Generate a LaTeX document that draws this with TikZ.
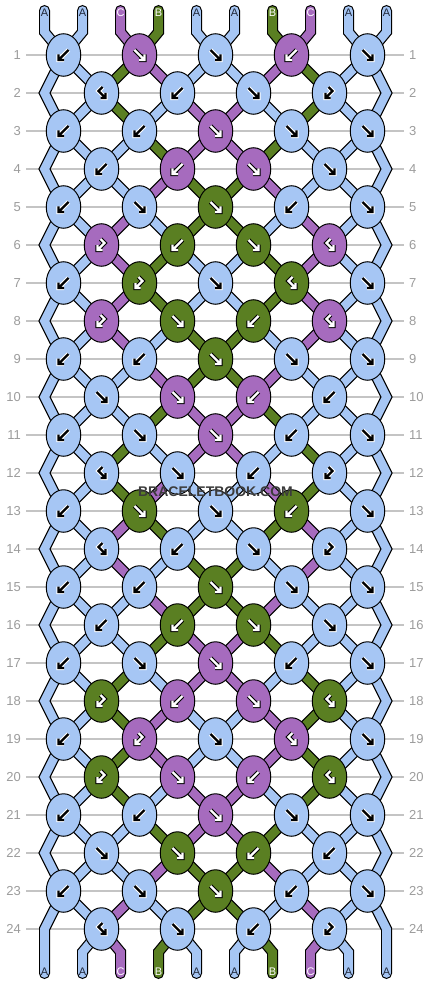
\documentclass[tikz,border=0pt]{standalone}
\usepackage{fontspec}
\setmainfont{Liberation Sans}
\usetikzlibrary{shapes.geometric}

\definecolor{strA}{HTML}{A6C6F4}
\definecolor{strB}{HTML}{5A7F22}
\definecolor{strC}{HTML}{A66BBE}
\colorlet{inkA}{black}\colorlet{rimA}{white}
\colorlet{inkB}{white}\colorlet{rimB}{black}
\colorlet{inkC}{white}\colorlet{rimC}{black}
\definecolor{tagA}{HTML}{1E2638}
\colorlet{tagB}{white}\colorlet{tagC}{white}
\definecolor{gridgray}{HTML}{C4C4C4}
\definecolor{numgray}{HTML}{9C9C9C}
\definecolor{wmgray}{HTML}{3C3C3C}
\colorlet{inkcol}{black}\colorlet{rimcol}{white}

\pgfdeclarelayer{grid}
\pgfdeclarelayer{strands}
\pgfsetlayers{grid,strands,main}

\tikzset{
  knot/.style={ellipse, draw=black, line width=1pt, minimum width=34.5pt,
    minimum height=42.5pt, inner sep=0pt},
  thread/.style={draw=#1, line width=8.6pt, line join=miter, line cap=round,
    preaction={draw=black, line width=11pt, line join=miter, line cap=round}},
  glyph/.style={draw=inkcol, line width=2.4pt, line join=miter, line cap=butt,
    preaction={draw=rimcol, line width=4.4pt, line join=miter, line cap=square}},
  gridline/.style={draw=gridgray, line width=1.2pt},
  rownum/.style={text=numgray, inner sep=0pt, font=\fontsize{13}{13}\selectfont},
  tag/.style={inner sep=0pt, font=\fontsize{11}{11}\selectfont},
  wmtext/.style={inner sep=0pt, font=\bfseries\fontsize{14}{14}\selectfont},
  gF/.pic={\draw[glyph] (-5,-5) -- (5,5) (5,-0.5) -- (5,5) -- (-0.5,5);},
  gB/.pic={\draw[glyph] (5,-5) -- (-5,5) (-5,-0.5) -- (-5,5) -- (0.5,5);},
  gFB/.pic={\draw[glyph] (1,-6) -- (-3,-2) -- (4,5) (4,0) -- (4,5) -- (-1,5);},
  gBF/.pic={\draw[glyph] (-1,-6) -- (3,-2) -- (-4,5) (-4,0) -- (-4,5) -- (1,5);},
}

\begin{document}
\begin{tikzpicture}[x=1pt,y=-1pt]
    \useasboundingbox (0,0) rectangle (430,984);
    \begin{pgfonlayer}{grid}
      \fill[white] (0,0) rectangle (430,984);
    \end{pgfonlayer}

    % row numbers and guide lines
    \foreach \rw in {1,...,24}{
      \node[rownum, anchor=east] (nl\rw) at (21,{17+38*\rw}) {\rw};
      \node[rownum, anchor=west] (nr\rw) at (409,{17+38*\rw}) {\rw};
      \begin{pgfonlayer}{grid}
        \draw[gridline, shorten <=5pt, shorten >=5pt] (nl\rw.east) -- (nr\rw.west);
      \end{pgfonlayer}
    }

    % knots: colour/kind, left to right
    \foreach \rw/\row in {
      1/{A/B,C/F,A/F,C/B,A/F}, 2/{A/FB,A/B,A/F,A/BF},
      3/{A/B,A/B,C/F,A/F,A/F}, 4/{A/B,C/B,C/F,A/F},
      5/{A/B,A/F,B/F,A/B,A/F}, 6/{C/BF,B/B,B/F,C/FB},
      7/{A/B,B/BF,A/F,B/FB,A/F}, 8/{C/BF,B/F,B/B,C/FB},
      9/{A/B,A/B,B/F,A/F,A/F}, 10/{A/F,C/F,C/B,A/B},
      11/{A/B,A/F,C/F,A/B,A/F}, 12/{A/FB,A/F,A/B,A/BF},
      13/{A/B,B/F,A/F,B/B,A/F}, 14/{A/FB,A/B,A/F,A/BF},
      15/{A/B,A/B,B/F,A/F,A/F}, 16/{A/B,B/B,B/F,A/F},
      17/{A/B,A/F,C/F,A/B,A/F}, 18/{B/BF,C/B,C/F,B/FB},
      19/{A/B,C/BF,A/F,C/FB,A/F}, 20/{B/BF,C/F,C/B,B/FB},
      21/{A/B,A/B,C/F,A/F,A/F}, 22/{A/F,B/F,B/B,A/B},
      23/{A/B,A/F,B/F,A/B,A/F}, 24/{A/FB,A/F,A/B,A/BF}}{
      \foreach \col/\kt [count=\n] in \row {
        \pgfmathtruncatemacro\p{2*\n-mod(\rw,2)}
        \pgfmathtruncatemacro\q{\p+1}
        \node[knot, fill=str\col] (k\rw-\p) at ({25.5+38*\p},{17+38*\rw}) {};
        \coordinate (a\rw-\p) at (k\rw-\p.center);
        \coordinate (a\rw-\q) at (k\rw-\p.center);
        \colorlet{inkcol}{ink\col}\colorlet{rimcol}{rim\col}
        \pic at (k\rw-\p) {g\kt};
      }
    }

    % outer threads turn at the edge on even rows
    \foreach \rw in {2,4,...,24}{
      \coordinate (a\rw-1) at (44.5,{17+38*\rw});
      \coordinate (a\rw-10) at (386.5,{17+38*\rw});
    }

    % thread ends and letters
    \foreach \col [count=\n] in {A,A,C,B,A,A,B,C,A,A}{
      \coordinate (t\n) at ({6.5+38*\n},10.5);
      \coordinate (a0-\n) at ({6.5+38*\n},32);
      \coordinate (a25-\n) at ({6.5+38*\n},952);
      \coordinate (z\n) at ({6.5+38*\n},973.5);
      \node[tag, text=tag\col] (lt\n) at ({6.5+38*\n},12.5) {\col};
      \node[tag, text=tag\col] (lb\n) at ({6.5+38*\n},972) {\col};
    }

    \begin{pgfonlayer}{strands}
      \draw[thread=strA] (t1) foreach \rw in {0,...,25}{ -- (a\rw-1)} -- (z1);
      \draw[thread=strA] (t10) foreach \rw in {0,...,25}{ -- (a\rw-10)} -- (z10);
      % threads 2..9 below each row
      \foreach \rw/\st in {
        0/{A,C,B,A,A,B,C,A}, 1/{A,B,C,A,A,C,B,A}, 2/{A,B,A,C,C,A,B,A},
        3/{A,A,B,C,C,B,A,A}, 4/{A,A,C,B,B,C,A,A}, 5/{A,C,A,B,B,A,C,A},
        6/{A,C,B,A,A,B,C,A}, 7/{A,C,B,A,A,B,C,A}, 8/{A,C,A,B,B,A,C,A},
        9/{A,A,C,B,B,C,A,A}, 10/{A,A,B,C,C,B,A,A}, 11/{A,B,A,C,C,A,B,A},
        12/{A,B,C,A,A,C,B,A}, 13/{A,C,B,A,A,B,C,A}, 14/{A,C,A,B,B,A,C,A},
        15/{A,A,C,B,B,C,A,A}, 16/{A,A,B,C,C,B,A,A}, 17/{A,B,A,C,C,A,B,A},
        18/{A,B,C,A,A,C,B,A}, 19/{A,B,C,A,A,C,B,A}, 20/{A,B,A,C,C,A,B,A},
        21/{A,A,B,C,C,B,A,A}, 22/{A,A,C,B,B,C,A,A}, 23/{A,C,A,B,B,A,C,A},
        24/{A,C,B,A,A,B,C,A}}{
        \pgfmathtruncatemacro\nx{\rw+1}
        \foreach \col [count=\n from 2] in \st {
          \ifnum\rw=0
            \draw[thread=str\col] (t\n) -- (a0-\n) -- (a1-\n);
          \else\ifnum\rw=24
            \draw[thread=str\col] (a24-\n) -- (a25-\n) -- (z\n);
          \else
            \draw[thread=str\col] (a\rw-\n) -- (a\nx-\n);
          \fi\fi
        }
      }
    \end{pgfonlayer}

    % watermark
    \node[wmtext, text=wmgray] (wm) at (215.5,491.5) {BRACELETBOOK.COM};
\end{tikzpicture}
\end{document}
